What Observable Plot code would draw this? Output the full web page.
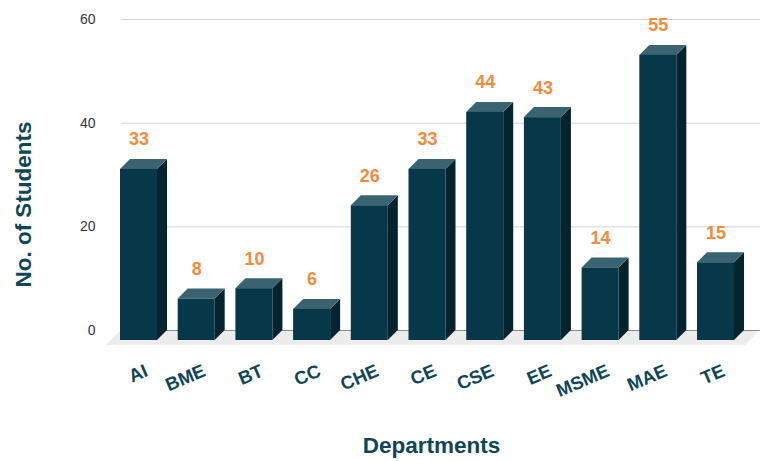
<!DOCTYPE html>
<html>
<head>
<meta charset="utf-8">
<script src="https://cdn.jsdelivr.net/npm/d3@7"></script>
<script src="https://cdn.jsdelivr.net/npm/@observablehq/plot@0.6"></script>
<style>
  html, body { margin: 0; padding: 0; background: #ffffff; }
</style>
</head>
<body>
<div id="chart"></div>
<script>
// ---- data ----
const categories = ["AI", "BME", "BT", "CC", "CHE", "CE", "CSE", "EE", "MSME", "MAE", "TE"];
const students = [33, 8, 10, 6, 26, 33, 44, 43, 14, 55, 15];
const yTicks = [0, 20, 40, 60];
const yTitle = "No. of Students";
const xTitle = "Departments";

// ---- layout ----
const W = 763, H = 461;
const mL = 121, mR = 3, mT = 19, mB = 131;
const xDomain = [-0.3033, 10.771];
const yDomain = [0, 60];
const pxX = (W - mL - mR) / (xDomain[1] - xDomain[0]);
const pxY = (H - mT - mB) / (yDomain[1] - yDomain[0]);
const depthPx = 10, halfWPx = 18.5, floorPx = 15;
const dX = depthPx / pxX, dY = depthPx / pxY, hw = halfWPx / pxX;

const bars = categories.map((c, i) => ({i, c, v: students[i]}));
const sideRows = bars.flatMap(b => [
  {i: b.i, x: b.i + hw, y1: -dY, y2: b.v - dY},
  {i: b.i, x: b.i + hw + dX, y1: 0, y2: b.v}
]);
const topRows = bars.flatMap(b => [
  {i: b.i, y: b.v - dY, x1: b.i - hw, x2: b.i + hw},
  {i: b.i, y: b.v, x1: b.i - hw + dX, x2: b.i + hw + dX}
]);
const floorRows = [
  {y: -floorPx / pxY, x1: xDomain[0] - floorPx / pxX, x2: xDomain[1] - floorPx / pxX},
  {y: 0, x1: xDomain[0], x2: xDomain[1]}
];

const front = "#07384a", topC = "#3a6371", sideC = "#03232e";
const orange = "#f5893c", titleC = "#0f4657";

const chart = Plot.plot({
  width: W, height: H,
  marginLeft: mL, marginRight: mR, marginTop: mT, marginBottom: mB,
  style: {fontFamily: "'Liberation Sans', Arial, sans-serif", fontSize: "14px", color: "#333", background: "#ffffff", overflow: "visible"},
  x: {domain: xDomain, axis: null},
  y: {domain: yDomain, ticks: yTicks, tickSize: 0, tickPadding: 26, label: null},
  marks: [
    Plot.areaX(floorRows, {y: "y", x1: "x1", x2: "x2", fill: "#ececec"}),
    Plot.ruleY(yTicks.filter(t => t > 0), {stroke: "#d3d3d3", strokeWidth: 1}),
    Plot.ruleY([0], {stroke: "#8a8a8a", strokeWidth: 1}),
    Plot.areaY(sideRows, {x: "x", y1: "y1", y2: "y2", z: "i", fill: sideC}),
    Plot.areaX(topRows, {y: "y", x1: "x1", x2: "x2", z: "i", fill: topC}),
    Plot.rect(bars, {x1: d => d.i - hw, x2: d => d.i + hw, y1: -dY, y2: d => d.v - dY, fill: front}),
    Plot.text(bars, {x: "i", y: "v", text: d => String(d.v), dy: -14, lineAnchor: "bottom",
      fill: orange, fontWeight: "bold", fontSize: 18}),
    Plot.text(bars, {x: "i", y: 0, text: "c", rotate: -23, textAnchor: "end", lineAnchor: "bottom",
      dx: 10, dy: 45, fill: titleC, fontWeight: "bold", fontSize: 18.5}),
    Plot.text([yTitle], {text: d => d, frameAnchor: "left", rotate: -90, dx: -98, dy: 29.5,
      textAnchor: "middle", lineAnchor: "middle", fill: titleC, fontWeight: "bold", fontSize: 22.5}),
    Plot.text([xTitle], {text: d => d, frameAnchor: "bottom", dx: -9.5, dy: 122,
      textAnchor: "middle", lineAnchor: "bottom", fill: titleC, fontWeight: "bold", fontSize: 22.5})
  ]
});
document.getElementById("chart").appendChild(chart);
</script>
</body>
</html>
